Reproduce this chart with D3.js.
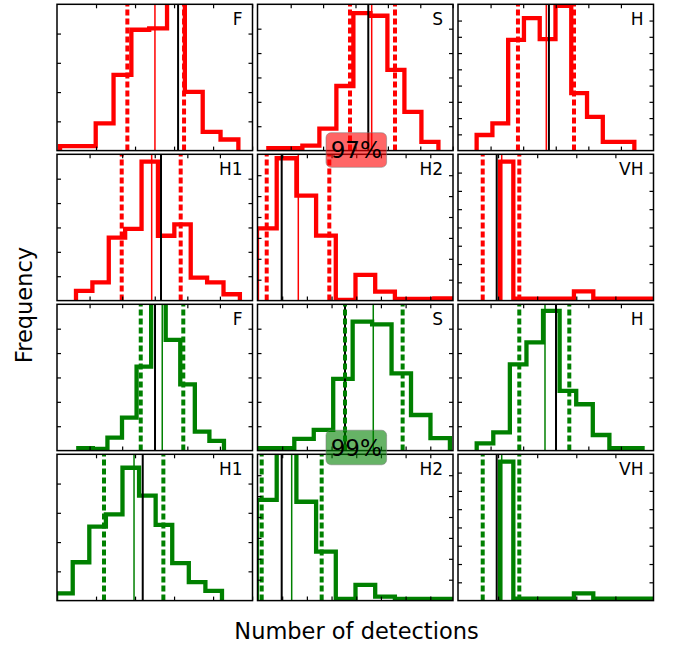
<!DOCTYPE html>
<html><head><meta charset="utf-8">
<script src="https://cdn.jsdelivr.net/npm/d3@7"></script>
<style>body{margin:0;background:#fff;} svg{display:block;font-family:"DejaVu Sans",sans-serif;}</style>
</head><body><svg id="c" width="673" height="650"></svg>
<script>
// ---------------- data ----------------
const panelNames = ["F","S","H","H1","H2","VH","F","S","H","H1","H2","VH"];
const panelSeries = ["red","red","red","red","red","red","green","green","green","green","green","green"];
const xDomains = [[10,60.1],[9.75,70.1],[10,70],[0,60],[0,79.2],[-0.25,49.75],
                  [0,60],[0,79.2],[10,70],[10,60.1],[0,79.2],[-0.25,49.75]];
const xTickValues = [[20,30,40,50,60],[20,30,40,50,60,70],[20,30,40,50,60],[10,20,30,40,50],[10,20,30,40,50,60,70],[10,20,30,40],
                     [10,20,30,40,50],[10,20,30,40,50,60,70],[20,30,40,50,60],[20,30,40,50,60],[10,20,30,40,50,60,70],[10,20,30,40]];
const yMaxes = [50,60,90,60,70,80, 60,60,60,50,70,80];
const binEdges = [
  [10.78,15.35,19.92,24.49,29.06,33.63,38.2,42.77,47.34,51.91,56.48],
  [13.1,18.35,23.6,28.85,34.1,39.35,44.6,49.85,55.1,60.35,65.6],
  [15.72,20.56,25.4,30.24,35.08,39.92,44.76,49.6,54.44,59.28,64.12],
  [5.83,10.86,15.89,20.92,25.95,30.98,36.01,41.04,46.07,51.1,56.13],
  [-0.2,7.78,15.76,23.74,31.72,39.7,47.68,55.66,63.64,71.62,79.6],
  [10.5,13.9,29.4,34.35,49.75],
  [6.54,11.01,15.48,19.95,24.42,28.89,33.36,37.83,42.3,46.77,51.24],
  [-0.85,7.03,14.91,22.79,30.67,38.55,46.43,54.31,62.19,70.07,77.95],
  [15.74,20.83,25.92,31.01,36.1,41.19,46.28,51.37,56.46,61.55,66.64],
  [9.78,14.03,18.28,22.53,26.78,31.03,35.28,39.53,43.78,48.03,52.28],
  [-0.2,7.78,15.76,23.74,31.72,39.7,47.68,55.66,63.64,71.62,79.6],
  [10.5,13.9,29.4,34.35,49.75]
];
const binCounts = [
  [1.5,1.5,9.3,25.9,41.3,41.8,53,20.1,6.4,3.8],
  [1,1,2,9,26.5,56.4,55.3,33.1,15.9,3.6],
  [9.6,16.8,68.1,81.5,68.6,89,35.3,20.8,5.4,5.4],
  [4,7.5,25.8,29.4,57,26.6,31.3,9.4,7.5,2.6],
  [34.6,68.1,50.2,31.1,0.3,12.3,4.3,0.8,0.8,1],
  [76,1,5,1],
  [1,0.7,5.3,13.5,34.4,64,45.4,27.2,7.8,4],
  [1,1,4.8,8.5,29.4,52.9,51.8,31.7,14.6,5.1],
  [3,7.5,35.4,44.4,57.3,24.5,19,6.4,1,1],
  [2.5,13.1,25.3,29.5,45.4,35.9,25.9,12.8,6.3,3.3],
  [48.2,73,47.3,23.4,0.8,7.5,1.9,0.8,0.8,0.8],
  [76,1,4,1]
];
const lowerBound = [28.03,38.3,28.4,19.86,3.73,6.07, 25.7,35.45,28.81,22.05,1.7,6.07];
const upperBound = [42.56,52.2,45.6,37.96,29.09,15.43, 38.76,58.8,44.16,37.26,26.0,15.43];
const medianValue = [35.1,45.0,37.1,29.06,16.53,10.93, 32.3,46.9,36.7,29.74,13.85,10.93];
const trueValue = [41.03,43.95,37.9,31.92,9.8,9.65, 30.08,35.45,40.08,31.97,9.8,9.65];
const badgeTexts = ["97%","99%"];
const badgeSeries = ["red","green"];
const xLabel = "Number of detections";
const yLabel = "Frequency";

// ---------------- layout ----------------
const seriesColor = {red:"#ff0000", green:"#008000"};
const badgeFill = {red:"rgba(255,0,0,0.6)", green:"rgba(0,128,0,0.6)"};
const colLeft = [57, 257.5, 458], panelW = 195.5;
const rowTop = [4.3, 154.3, 304.3, 454.3], panelH = 146.3;

const svg = d3.select("#c");
svg.append("rect").attr("width",673).attr("height",650).attr("fill","#fff");
const defs = svg.append("defs");
defs.append("clipPath").attr("id","pclip").append("rect")
  .attr("x",0).attr("y",0).attr("width",panelW).attr("height",panelH);

panelNames.forEach((name, i) => {
  const row = Math.floor(i/3), col = i%3;
  const g = svg.append("g").attr("transform", `translate(${colLeft[col]},${rowTop[row]})`);
  const x = d3.scaleLinear().domain(xDomains[i]).range([0, panelW]);
  const y = d3.scaleLinear().domain([0, yMaxes[i]]).range([panelH, 0]);
  const color = seriesColor[panelSeries[i]];
  const inner = g.append("g").attr("clip-path","url(#pclip)");

  const edges = binEdges[i], counts = binCounts[i];
  const pts = [[edges[0], 0]];
  counts.forEach((c, k) => { pts.push([edges[k], c]); pts.push([edges[k+1], c]); });
  pts.push([edges[edges.length-1], 0]);
  const line = d3.line().x(d => x(d[0])).y(d => y(d[1]));
  inner.append("path").attr("d", line(pts)).attr("fill","none")
    .attr("stroke", color).attr("stroke-width", 4.3).attr("stroke-linejoin","miter");

  const vline = (v, stroke, w, dash) => {
    const l = inner.append("line").attr("x1", x(v)).attr("x2", x(v))
      .attr("y1", y(0)).attr("y2", y(yMaxes[i])).attr("stroke", stroke).attr("stroke-width", w);
    if (dash) l.attr("stroke-dasharray", dash);
  };
  vline(trueValue[i], "#000", 2);
  vline(medianValue[i], color, 1.5);
  vline(lowerBound[i], color, 4, "6,3");
  vline(upperBound[i], color, 4, "6,3");

  // axes with inward ticks
  const styleAxis = a => { a.select(".domain").remove(); a.selectAll("line").attr("stroke","#000").attr("stroke-width",1.2); a.selectAll("text").remove(); };
  g.append("g").attr("transform",`translate(0,${panelH})`)
    .call(d3.axisBottom(x).tickValues(xTickValues[i]).tickSize(-4).tickFormat("")).call(styleAxis);
  g.append("g").call(d3.axisTop(x).tickValues(xTickValues[i]).tickSize(-4).tickFormat("")).call(styleAxis);
  const yt = d3.range(10, yMaxes[i], 10);
  g.append("g").call(d3.axisLeft(y).tickValues(yt).tickSize(-4).tickFormat("")).call(styleAxis);
  g.append("g").attr("transform",`translate(${panelW},0)`)
    .call(d3.axisRight(y).tickValues(yt).tickSize(-4).tickFormat("")).call(styleAxis);

  g.append("rect").attr("width", panelW).attr("height", panelH)
    .attr("fill","none").attr("stroke","#000").attr("stroke-width",1.5);

  g.append("text").attr("x", panelW-10).attr("y", 21).attr("text-anchor","end")
    .attr("font-size", 17).attr("fill","#000").text(name);
});

// badges
const badgeY = [132.7, 430.2];
badgeTexts.forEach((t, j) => {
  const bg = svg.append("g").attr("transform", `translate(356.3,${badgeY[j]})`);
  bg.append("rect").attr("x",-30.3).attr("y",0).attr("width",60.6).attr("height",34.6)
    .attr("rx",5).attr("ry",5).attr("fill", badgeFill[badgeSeries[j]])
    .attr("stroke","rgba(120,120,120,0.5)").attr("stroke-width",1);
  bg.append("text").attr("x",0).attr("y",25.5).attr("text-anchor","middle")
    .attr("font-size",23).attr("fill","#000").text(t);
});

svg.append("text").attr("x",356.5).attr("y",639).attr("text-anchor","middle")
  .attr("font-size",22.5).attr("fill","#000").text(xLabel);
svg.append("text").attr("transform","translate(32,305) rotate(-90)").attr("text-anchor","middle")
  .attr("font-size",22.5).attr("fill","#000").text(yLabel);
</script></body></html>
